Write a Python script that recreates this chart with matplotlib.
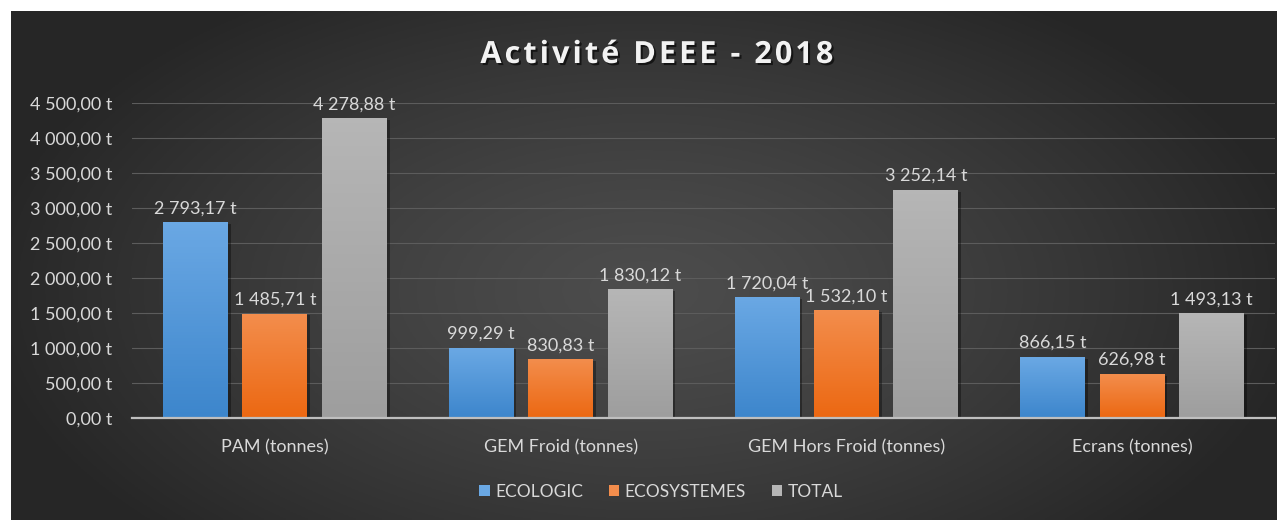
import matplotlib
matplotlib.use("Agg", force=True)
import matplotlib.pyplot as plt
import matplotlib.patheffects as pe
from matplotlib.patches import Patch
import numpy as np

categories = ["PAM (tonnes)", "GEM Froid (tonnes)", "GEM Hors Froid (tonnes)", "Ecrans (tonnes)"]
series_names = ["ECOLOGIC", "ECOSYSTEMES", "TOTAL"]
ecologic = [2793.17, 999.29, 1720.04, 866.15]
ecosystemes = [1485.71, 830.83, 1532.10, 626.98]
total = [4278.88, 1830.12, 3252.14, 1493.13]
y_ticks = [0, 500, 1000, 1500, 2000, 2500, 3000, 3500, 4000, 4500]
title = "Activité DEEE - 2018"

# (top colour, bottom colour) for each series
bar_colors = [("#6aa8e4", "#3d86cc"), ("#f38d4c", "#ec6812"), ("#b6b6b6", "#9e9e9e")]
text_color = "#d9d9d9"

plt.rcParams["font.family"] = ["Lato", "DejaVu Sans"]


def fmt_fr(v):
    s = f"{v:,.2f}".replace(",", " ").replace(".", ",")
    return f"{s} t"


W, H = 1281, 520
fig = plt.figure(figsize=(W / 100, H / 100), dpi=100, facecolor="white")

# dark radial background of the chart area
bg = fig.add_axes([11 / W, 0, (1277 - 11) / W, (H - 11) / H])
bg.set_axis_off()
gx, gy = np.meshgrid(np.linspace(-1, 1, 400), np.linspace(-1, 1, 200))
r = np.sqrt((gx / 1.05) ** 2 + ((gy + 0.1) / 1.4) ** 2)
r = np.clip(r, 0, 1)
shade = 0.30 - 0.15 * r ** 1.3
bg.imshow(np.dstack([shade] * 3), extent=(0, 1, 0, 1), aspect="auto", origin="lower")
bg.set_xlim(0, 1)
bg.set_ylim(0, 1)

ax = fig.add_axes([132 / W, (H - 418) / H, (1275 - 132) / W, (418 - 103) / H])
ax.patch.set_alpha(0)

x = np.arange(len(categories))
width = 0.227
step = 0.278
for i, (vals, (c_top, c_bot)) in enumerate(zip([ecologic, ecosystemes, total], bar_colors)):
    bars = ax.bar(x + (i - 1) * step, vals, width, color=c_bot, zorder=3,
                  path_effects=[pe.SimplePatchShadow(offset=(2, -1), shadow_rgbFace="black", alpha=0.35),
                                pe.Normal()])
    top = np.array(matplotlib.colors.to_rgb(c_top))
    bot = np.array(matplotlib.colors.to_rgb(c_bot))
    grad = np.linspace(0, 1, 64)[:, None, None] * (top - bot) + bot
    for b, v in zip(bars, vals):
        x0 = b.get_x()
        ax.imshow(grad, extent=(x0, x0 + b.get_width(), 0, b.get_height()),
                  aspect="auto", origin="lower", zorder=4)
        ax.text(b.get_x() + b.get_width() / 2, v + 90, fmt_fr(v), ha="center", va="bottom",
                color=text_color, fontsize=13, zorder=5)
ax.set_xlim(-0.5, len(categories) - 0.5)
ax.set_ylim(0, 4500)

ax.set_yticks(y_ticks)
ax.set_yticklabels([fmt_fr(v) for v in y_ticks])
ax.set_xticks(x)
ax.set_xticklabels(categories)
ax.tick_params(axis="both", length=0, colors=text_color, labelsize=13)
ax.tick_params(axis="x", pad=15)
ax.tick_params(axis="y", pad=14)
ax.grid(axis="y", color="#5c5c5c", linewidth=0.8, zorder=0)
for side in ["top", "right", "left"]:
    ax.spines[side].set_visible(False)
ax.spines["bottom"].set_color("#bfbfbf")
ax.spines["bottom"].set_linewidth(1.6)
ax.spines["bottom"].set_zorder(6)

# letter-spaced title (hair spaces between characters)
fig.text(656 / W, (H - 55) / H, "\u200a".join(title), ha="center", va="center",
         fontsize=22, fontweight="bold", color="#f2f2f2", family=["Open Sans", "DejaVu Sans"],
         path_effects=[pe.withSimplePatchShadow(offset=(1.5, -1.5), shadow_rgbFace="black", alpha=0.6)])

handles = [Patch(facecolor=c[0], edgecolor="none") for c in bar_colors]
fig.legend(handles, series_names, loc="center", bbox_to_anchor=(661 / W, (H - 492) / H),
           ncol=3, frameon=False, fontsize=12.5, labelcolor=text_color,
           handlelength=0.6, handleheight=0.6, handletextpad=0.3, columnspacing=1.5)

fig.savefig("out.png", dpi=100, facecolor="white")
